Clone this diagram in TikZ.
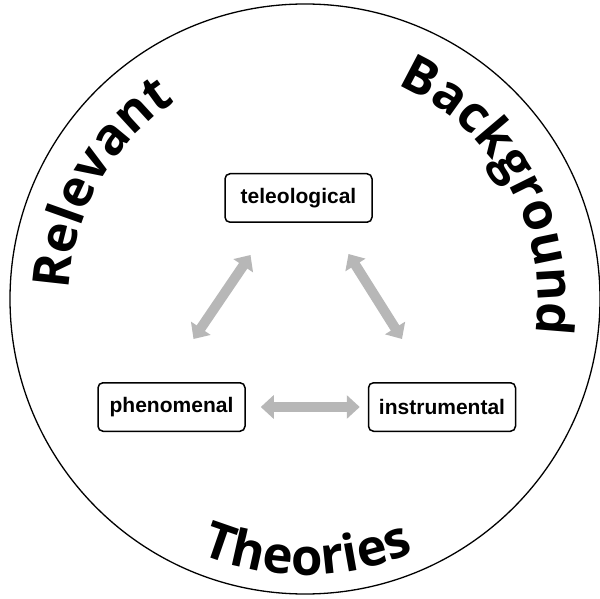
\documentclass[tikz,border=0pt]{standalone}
\usepackage{fontspec}
\setmainfont{Liberation Sans}
\newfontfamily\arcfont{Open Sans}
\usetikzlibrary{decorations.text,arrows.meta,calc}
\definecolor{arrowgray}{RGB}{183,183,183}
\begin{document}
\begin{tikzpicture}[x=1pt,y=1pt,
  box/.style={draw=black,line width=1.5pt,rounded corners=5pt,minimum width=147pt,minimum height=48.5pt,inner sep=0pt,font=\fontsize{21}{25}\selectfont\bfseries},
  garrow/.style={draw=arrowgray,line width=10pt,{Triangle[width=23pt,length=13pt]}-{Triangle[width=23pt,length=13pt]}},
  arctext/.style={decorate,decoration={text along path,text align=center,text={|\fontsize{51}{60}\selectfont\arcfont\bfseries|#1}}}]
\useasboundingbox (0,0) rectangle (600,598);
\coordinate (C) at (305,299);
\draw[line width=1.3pt] (C) circle[radius=295];
\path[arctext=Relevant] ($(C)+(210.5:236)$) arc[start angle=210.5,end angle=90.5,radius=236];
\path[arctext=Background] ($(C)+(89:233)$) arc[start angle=89,end angle=-31,radius=233];
\path[arctext=Theories] ($(C)+(210:276)$) arc[start angle=210,end angle=331,radius=276];
\node[box] (tele) at (298.5,400) {teleological};
\node[box] (phen) at (171.5,191) {phenomenal};
\node[box] (instr) at (442,191) {instrumental};
\draw[garrow] ($(phen.north)+(22,43)$) -- ($(tele.south)+(-48,-32)$);
\draw[garrow] ($(tele.south)+(50,-31)$) -- ($(instr.north)+(-40,43)$);
\draw[garrow] ($(phen.east)+(15,0)$) -- ($(instr.west)+(-8,0)$);
\end{tikzpicture}
\end{document}
